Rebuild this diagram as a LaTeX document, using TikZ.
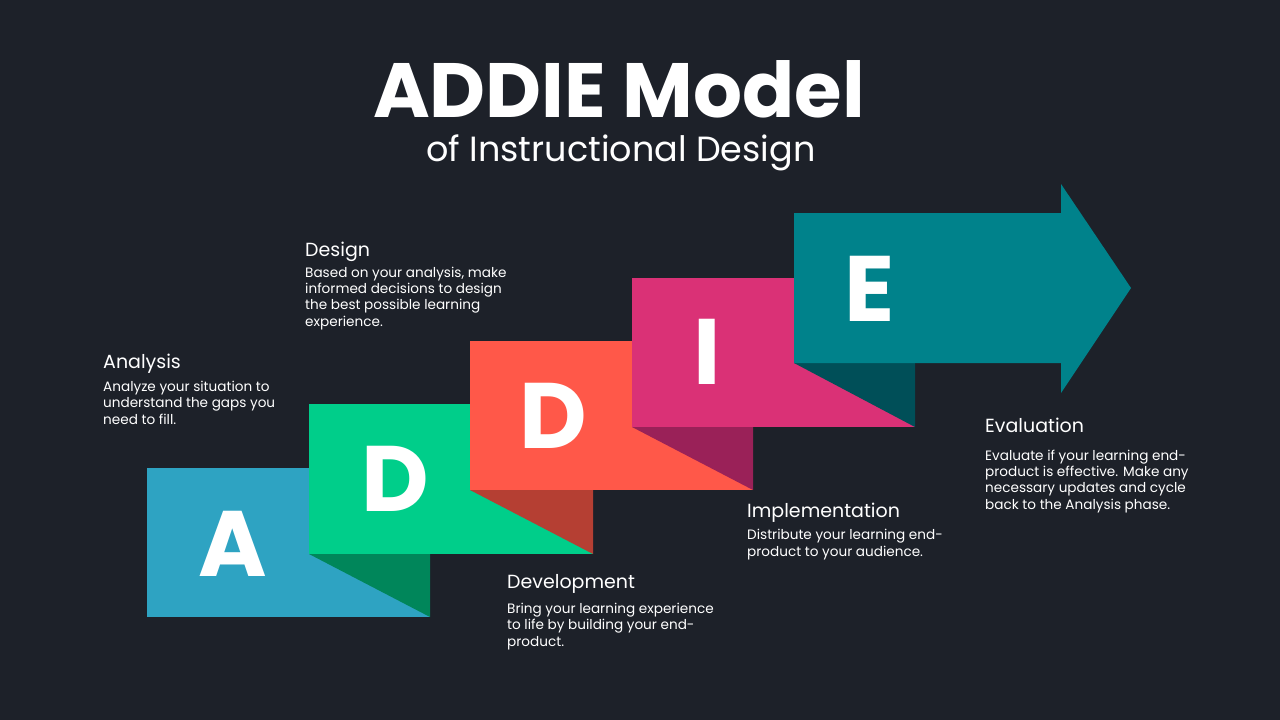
\documentclass[tikz,border=0pt]{standalone}
\usepackage{fontspec}
\setmainfont{Poppins}
\definecolor{bg}{HTML}{1D2129}
\definecolor{blueA}{HTML}{2EA3C2}
\definecolor{greenD}{HTML}{00CE8A}
\definecolor{greenS}{HTML}{00865A}
\definecolor{redD}{HTML}{FF5849}
\definecolor{redS}{HTML}{B53F33}
\definecolor{pinkI}{HTML}{DA3176}
\definecolor{pinkS}{HTML}{9A2158}
\definecolor{tealE}{HTML}{00828B}
\definecolor{tealS}{HTML}{004F58}
\begin{document}
\begin{tikzpicture}[x=1pt, y=-1pt,
    letter/.style={text=white, inner sep=0, font=\fontsize{93}{93}\selectfont\bfseries},
    head/.style={text=white, anchor=base west, inner sep=0, font=\fontsize{19}{22}\selectfont},
    body/.style={text=white, anchor=base west, inner sep=0, align=left, font=\fontsize{13.6}{16.3}\selectfont}]
\fill[bg](0,0)rectangle(1280,720);
\node[text=white, anchor=base, inner sep=0, font=\fontsize{77}{77}\selectfont\bfseries] (title) at (619,117) {ADDIE Model};
\node[text=white, anchor=base, inner sep=0, font=\fontsize{35}{35}\selectfont] (subtitle) at (621,161) {of Instructional Design};

\fill[blueA](147,468)rectangle(430,617);
\node[letter] (A) at (233,544) {A};
% the three middle steps, each with its fold
\foreach \l/\t/\r/\b/\pr/\pb/\c/\s/\x/\y/\n/\txt in
  {309/404/593/554/430/617/greenD/greenS/395/479/D1/D,
   470/341/753/490/593/554/redD/redS/553/416/D2/D,
   632/278/915/427/753/490/pinkI/pinkS/707/352/I/I}
{
    \fill[\s](\l,\b)--(\pr,\b)--(\pr,\pb)--cycle;
    \fill[\c](\l,\t)rectangle(\r,\b);
    \node[letter] (\n) at (\x,\y) {\txt};
}
\fill[tealS](794,363)--(915,363)--(915,427)--cycle;
\fill[tealE](794,213)--(1061,213)--(1061,184)--(1131,288)--(1061,393)--(1061,363)--(794,363)--cycle;
\node[letter] (E) at (870,289) {E};

% body nodes sit on the baseline of their last line
\foreach \x/\y/\z/\h/\txt in
  {103/368/424/Analysis/{Analyze your situation to\\understand the gaps you\\need to fill.},
   305/256/326/Design/{Based on your analysis, make\\informed decisions to design\\the best possible learning\\experience.},
   507/588/646/Development/{Bring your learning experience\\to life by building your end-\\product.},
   747/517/556/Implementation/{Distribute your learning end-\\product to your audience.},
   985/432/509/Evaluation/{Evaluate if your learning end-\\product is effective. Make any\\necessary updates and cycle\\back to the Analysis phase.}}
{
    \node[head] (h\h) at (\x,\y) {\h};
    \node[body] (b\h) at (\x,\z) {\txt};
}
\end{tikzpicture}
\end{document}
